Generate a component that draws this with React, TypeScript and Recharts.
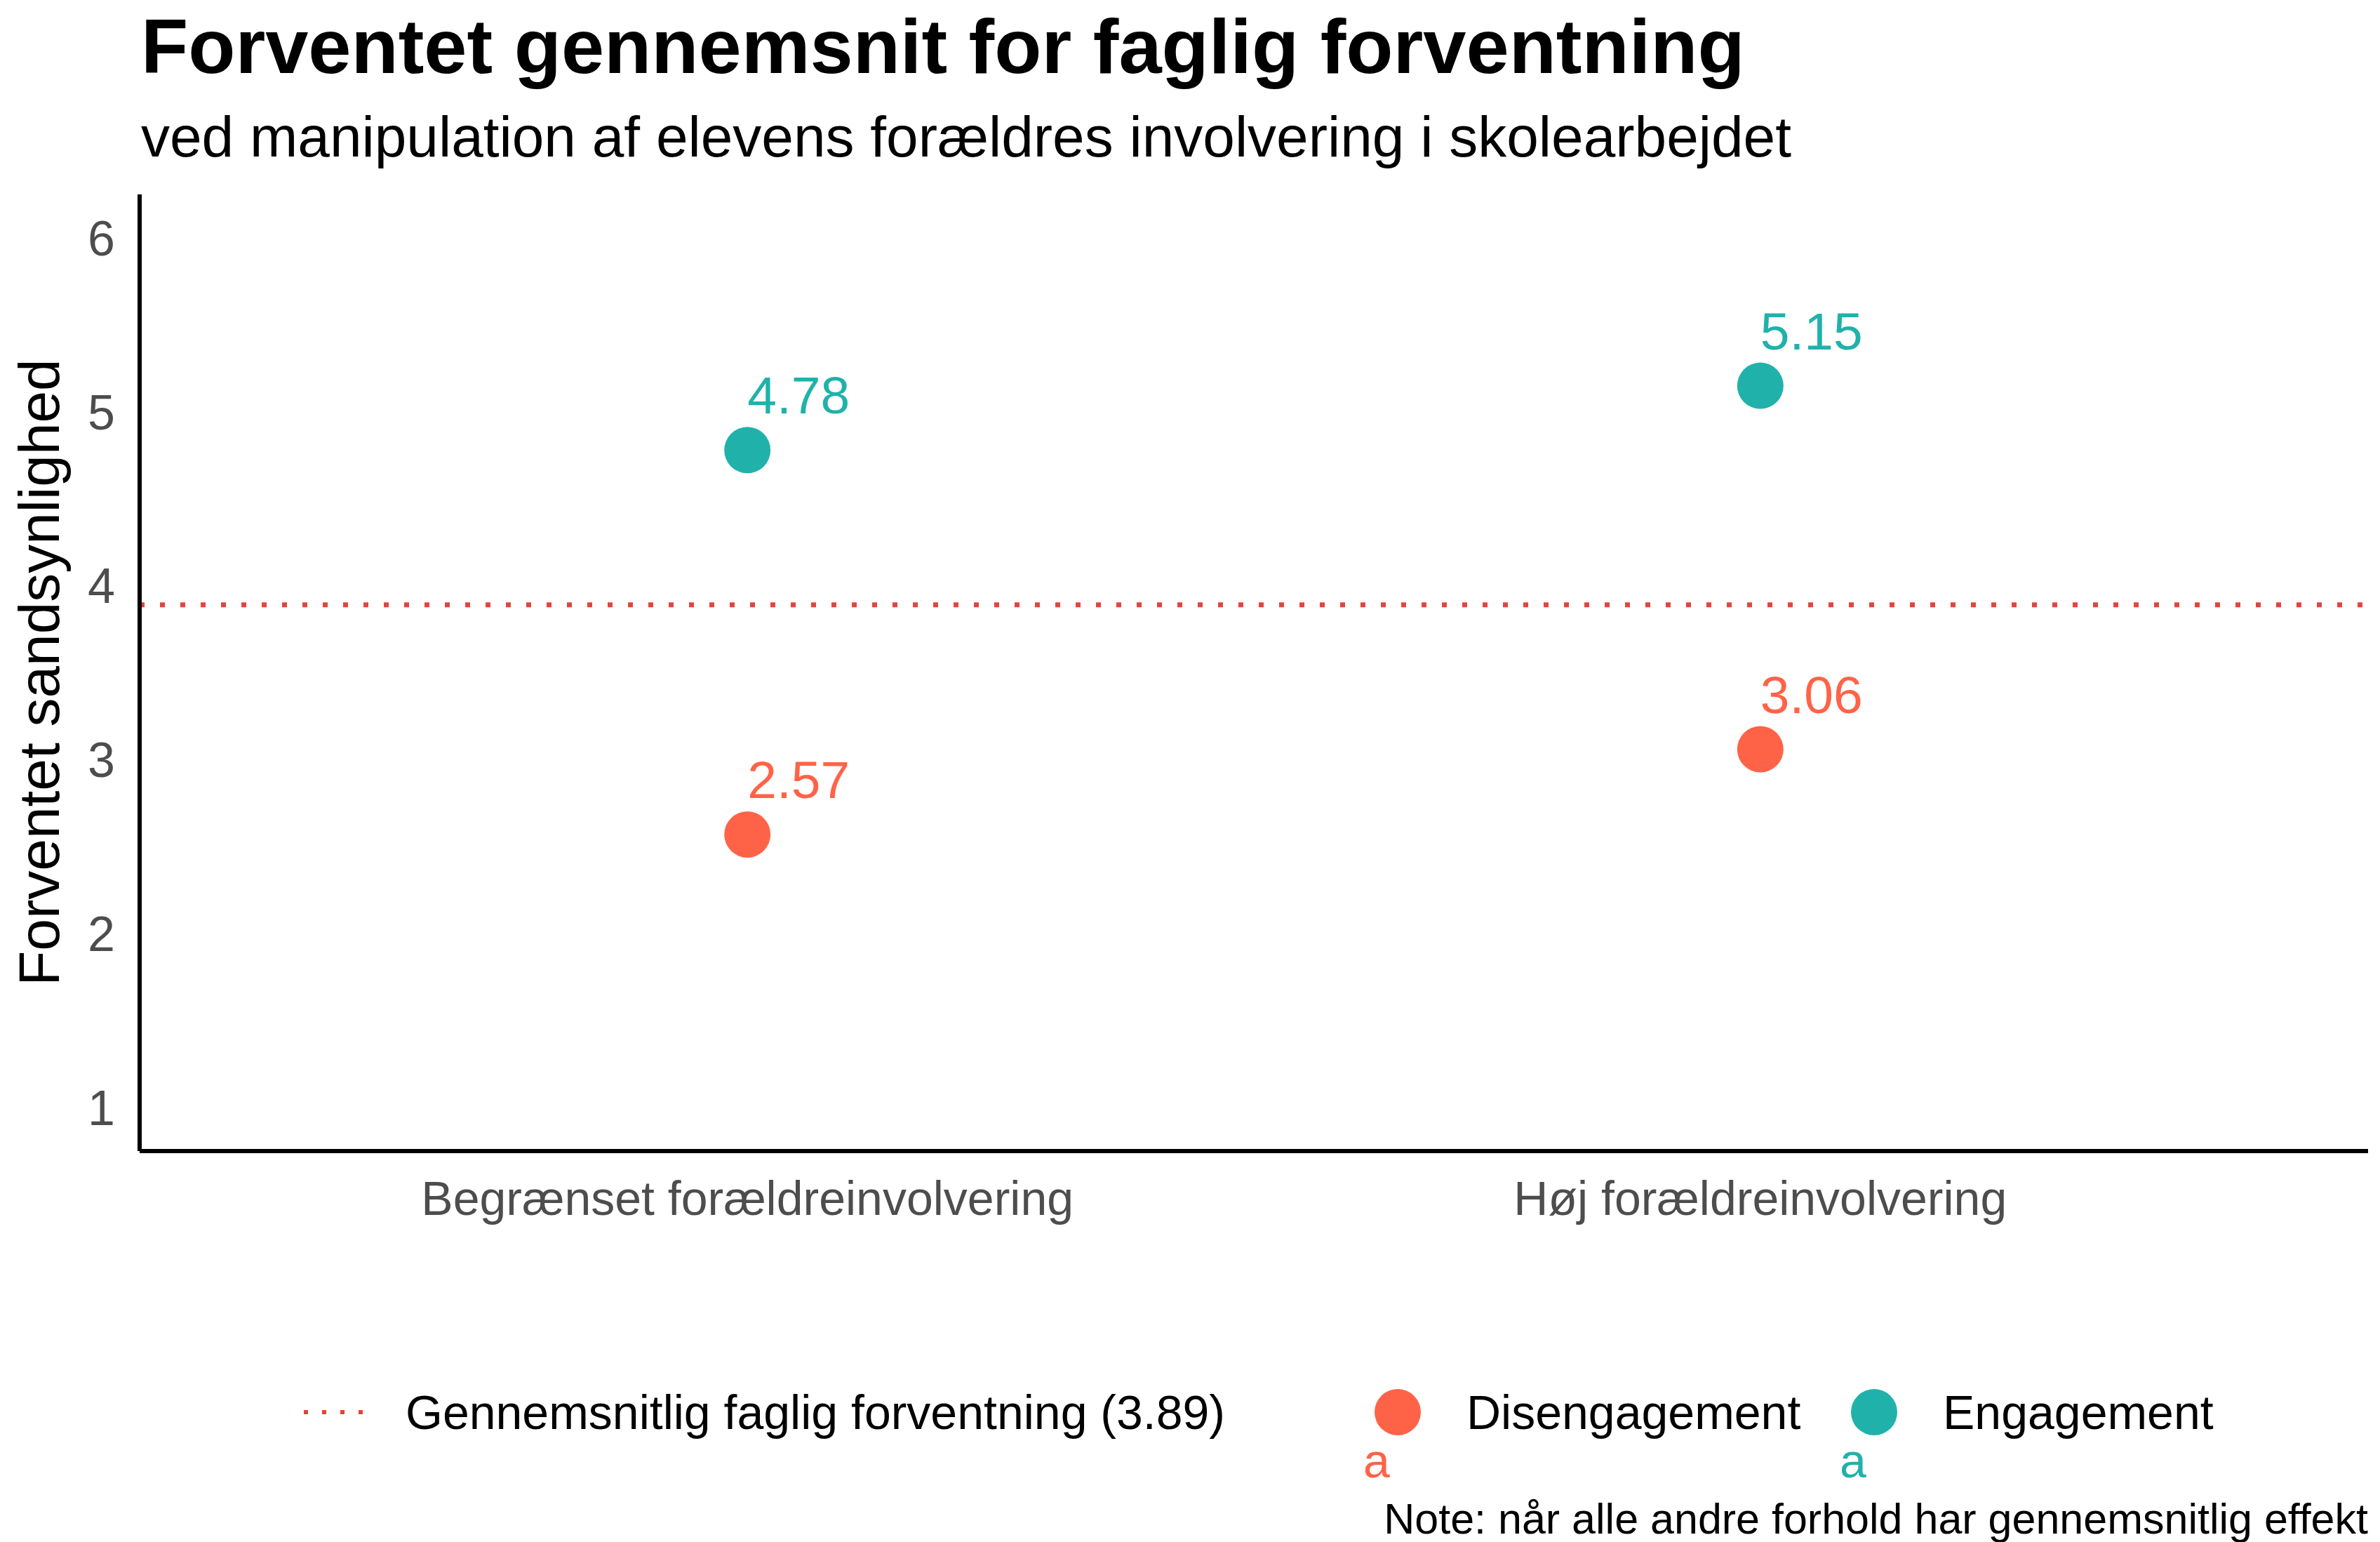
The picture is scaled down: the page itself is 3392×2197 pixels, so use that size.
import { ScatterChart, Scatter, XAxis, YAxis, ReferenceLine } from 'recharts';

// data
const categories = ['Begrænset forældreinvolvering', 'Høj forældreinvolvering'];
const disengagement = [2.57, 3.06];
const engagement = [4.78, 5.15];
const overallMean = 3.89;
const yTicks = [1, 2, 3, 4, 5, 6];
const xTicks = [1, 2];

const W = 3392;
const H = 2197;
const FONT = '"Liberation Sans", Arial, Helvetica, sans-serif';
const RED = '#FF6347';
const TEAL = '#20B2AA';
const DOT_RED = '#E2453C';

const disData = categories.map((c, i) => ({ x: i + 1, y: disengagement[i], cat: c }));
const engData = categories.map((c, i) => ({ x: i + 1, y: engagement[i], cat: c }));

function makeDot(color: string) {
    return (props: any) => {
        const { cx, cy, payload } = props;
        return (
            <g>
                <circle cx={cx} cy={cy} r={33} fill={color} />
                <text x={cx} y={cy - 52} fill={color} fontSize={75} fontFamily={FONT} textAnchor="start">
                    {payload.y.toFixed(2)}
                </text>
            </g>
        );
    };
}

export default function App() {
    return (
        <div style={{ position: 'absolute', left: 0, top: 0, width: W, height: H, background: '#fff' }}>
            <ScatterChart width={W} height={H} margin={{ top: 277, right: 17, bottom: 457, left: 79 }}>
                <XAxis
                    type="number"
                    dataKey="x"
                    domain={[0.4, 2.6]}
                    ticks={xTicks}
                    interval={0}
                    tickFormatter={(v: number) => categories[v - 1]}
                    tickLine={false}
                    axisLine={{ stroke: '#000', strokeWidth: 6 }}
                    tick={{ fill: '#4d4d4d', fontSize: 68, fontFamily: FONT }}
                    tickMargin={37}
                    height={100}
                />
                <YAxis
                    type="number"
                    dataKey="y"
                    domain={[0.75, 6.25]}
                    ticks={yTicks}
                    interval={0}
                    tickLine={false}
                    axisLine={{ stroke: '#000', strokeWidth: 6 }}
                    tick={{ fill: '#4d4d4d', fontSize: 70, fontFamily: FONT }}
                    tickMargin={29}
                    width={120}
                />
                <ReferenceLine y={overallMean} stroke={DOT_RED} strokeWidth={7} strokeDasharray="7 22" />
                <Scatter name="Disengagement" data={disData} shape={makeDot(RED)} isAnimationActive={false} />
                <Scatter name="Engagement" data={engData} shape={makeDot(TEAL)} isAnimationActive={false} />
            </ScatterChart>

            <svg width={W} height={H} style={{ position: 'absolute', left: 0, top: 0, pointerEvents: 'none' }}>
                <text x={201} y={104} fontSize={110} fontWeight="bold" fontFamily={FONT} fill="#000">
                    Forventet gennemsnit for faglig forventning
                </text>
                <text x={201} y={223} fontSize={82} fontFamily={FONT} fill="#000">
                    ved manipulation af elevens forældres involvering i skolearbejdet
                </text>
                <text
                    x={84}
                    y={958}
                    fontSize={82}
                    fontFamily={FONT}
                    fill="#000"
                    textAnchor="middle"
                    transform="rotate(-90 84 958)"
                >
                    Forventet sandsynlighed
                </text>

                {/* legend */}
                <line x1={433} x2={530} y1={2012} y2={2012} stroke={DOT_RED} strokeWidth={6} strokeDasharray="6 20" />
                <text x={578} y={2036} fontSize={68} fontFamily={FONT} fill="#000">
                    Gennemsnitlig faglig forventning ({overallMean.toFixed(2)})
                </text>
                <circle cx={1992} cy={2012} r={33} fill={RED} />
                <text x={1962} y={2105} fontSize={68} fontFamily={FONT} fill={RED} textAnchor="middle">a</text>
                <text x={2090} y={2036} fontSize={68} fontFamily={FONT} fill="#000">Disengagement</text>
                <circle cx={2671} cy={2012} r={33} fill={TEAL} />
                <text x={2641} y={2105} fontSize={68} fontFamily={FONT} fill={TEAL} textAnchor="middle">a</text>
                <text x={2769} y={2036} fontSize={68} fontFamily={FONT} fill="#000">Engagement</text>

                <text x={3375} y={2185} fontSize={61} fontFamily={FONT} fill="#000" textAnchor="end">
                    Note: når alle andre forhold har gennemsnitlig effekt
                </text>
            </svg>
        </div>
    );
}
